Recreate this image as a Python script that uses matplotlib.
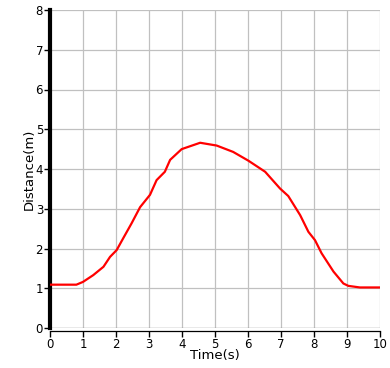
import matplotlib
matplotlib.use("Agg")
import matplotlib.pyplot as plt

# data
time_s = [0.0, 0.8, 1.0, 1.31, 1.62, 1.82, 2.02, 2.22, 2.47, 2.73, 3.03, 3.23,
          3.48, 3.64, 3.99, 4.34, 4.55, 5.05, 5.55, 6.01, 6.52, 6.97, 7.22,
          7.58, 7.83, 8.03, 8.23, 8.59, 8.89, 9.04, 9.39, 10.0]
distance_m = [1.09, 1.09, 1.16, 1.33, 1.54, 1.79, 1.96, 2.26, 2.63, 3.04, 3.35,
              3.72, 3.93, 4.23, 4.50, 4.60, 4.66, 4.59, 4.43, 4.21, 3.93, 3.51,
              3.32, 2.84, 2.42, 2.21, 1.88, 1.42, 1.12, 1.06, 1.02, 1.02]
x_ticks = list(range(0, 11))
y_ticks = list(range(0, 9))

fig = plt.figure(figsize=(3.9, 3.68), dpi=100, facecolor='white')
ax = fig.add_axes([50 / 390, 40 / 368, 330 / 390, 318 / 368])

ax.set_xlim(0, 10)
ax.set_ylim(0, 8)
ax.set_xticks(x_ticks)
ax.set_yticks(y_ticks)
ax.grid(True, color='#c0c0c0', linewidth=0.9)
ax.set_axisbelow(True)

ax.plot(time_s, distance_m, color='#ff0000', linewidth=1.6, zorder=3)
ax.axhline(0, color='black', linewidth=0.8, zorder=2)

for s in ['top', 'right']:
    ax.spines[s].set_visible(False)
ax.spines['left'].set_linewidth(3)
ax.spines['bottom'].set_linewidth(0.9)
ax.spines['bottom'].set_position(('outward', 2))

ax.tick_params(axis='both', direction='out', length=4, width=1, labelsize=8.5, color='black', pad=1)
ax.set_xlabel('Time(s)', fontsize=9.5, labelpad=-1)
ax.set_ylabel('Distance(m)', fontsize=9.5, labelpad=0)

fig.savefig('out.png', dpi=100)
